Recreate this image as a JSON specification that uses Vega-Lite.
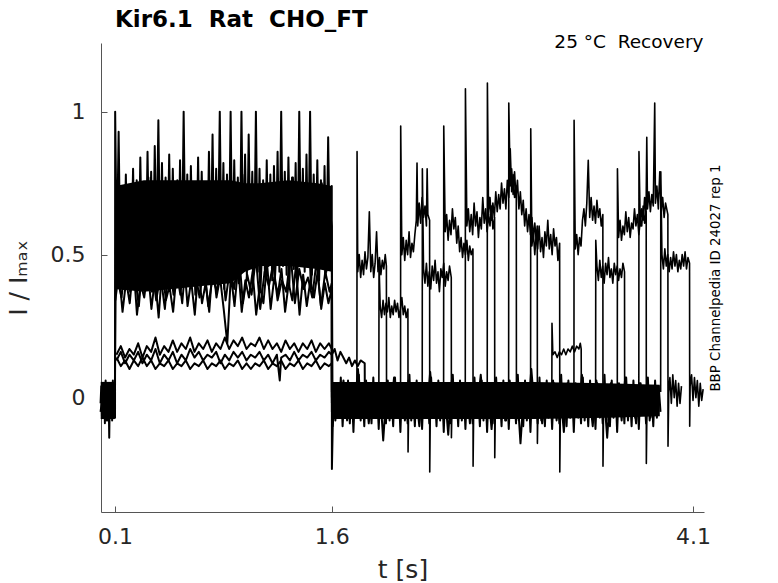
{
  "$schema": "https://vega.github.io/schema/vega-lite/v6.json",
  "width": 603,
  "height": 469,
  "autosize": "none",
  "padding": {"left": 101, "top": 43, "right": 74, "bottom": 71},
  "background": "white",
  "config": {"view": {"stroke": null}, "font": "DejaVu Sans"},
  "title": {
    "text": "Kir6.1 \u00a0Rat \u00a0CHO_FT",
    "anchor": "start",
    "frame": "group",
    "dx": 14,
    "dy": 23,
    "font": "DejaVu Sans",
    "fontSize": 23,
    "fontWeight": "bold",
    "color": "black",
    "baseline": "alphabetic",
    "offset": 6
  },
  "data": {"values": [
    {"k":1,"t":0,"v":-0.02},{"k":1,"t":0.005,"v":0.04},{"k":1,"t":0.01,"v":-0.07},{"k":1,"t":0.015,"v":0.05},{"k":1,"t":0.02,"v":-0.04},{"k":1,"t":0.025,"v":0.03},{"k":1,"t":0.03,"v":-0.09},{"k":1,"t":0.035,"v":0.06},{"k":1,"t":0.04,"v":-0.05},{"k":1,"t":0.045,"v":0.02},{"k":1,"t":0.05,"v":-0.08},{"k":1,"t":0.055,"v":0.04},{"k":1,"t":0.06,"v":-0.14},{"k":1,"t":0.065,"v":0.05},{"k":1,"t":0.07,"v":-0.06},{"k":1,"t":0.075,"v":0.03},{"k":1,"t":0.08,"v":-0.08},{"k":1,"t":0.085,"v":0.06},{"k":1,"t":0.09,"v":-0.04},{"k":1,"t":0.095,"v":0.04},{"k":1,"t":0.1,"v":-0.07},{"k":1,"t":0.101,"v":1.0},
    {"k":1,"t":0.1125,"v":0.48},{"k":1,"t":0.125,"v":0.93},{"k":1,"t":0.1375,"v":0.44},{"k":1,"t":0.15,"v":0.74},{"k":1,"t":0.1625,"v":0.47},{"k":1,"t":0.175,"v":0.78},{"k":1,"t":0.1875,"v":0.42},{"k":1,"t":0.2,"v":0.71},{"k":1,"t":0.2125,"v":0.5},{"k":1,"t":0.225,"v":0.8},
    {"k":1,"t":0.2375,"v":0.45},{"k":1,"t":0.25,"v":0.76},{"k":1,"t":0.2625,"v":0.41},{"k":1,"t":0.275,"v":0.84},{"k":1,"t":0.2875,"v":0.49},{"k":1,"t":0.3,"v":0.72},{"k":1,"t":0.3125,"v":0.44},{"k":1,"t":0.325,"v":0.86},{"k":1,"t":0.3375,"v":0.47},{"k":1,"t":0.35,"v":0.79},
    {"k":1,"t":0.3625,"v":0.43},{"k":1,"t":0.375,"v":0.88},{"k":1,"t":0.3875,"v":0.5},{"k":1,"t":0.4,"v":0.97},{"k":1,"t":0.4125,"v":0.46},{"k":1,"t":0.425,"v":0.82},{"k":1,"t":0.4375,"v":0.42},{"k":1,"t":0.45,"v":0.77},{"k":1,"t":0.4625,"v":0.48},{"k":1,"t":0.475,"v":0.85},
    {"k":1,"t":0.4875,"v":0.44},{"k":1,"t":0.5,"v":0.8},{"k":1,"t":0.5125,"v":0.47},{"k":1,"t":0.525,"v":0.74},{"k":1,"t":0.5375,"v":0.41},{"k":1,"t":0.55,"v":0.83},{"k":1,"t":0.5625,"v":0.45},{"k":1,"t":0.575,"v":1.0},{"k":1,"t":0.5875,"v":0.46},{"k":1,"t":0.6,"v":0.78},
    {"k":1,"t":0.6125,"v":0.43},{"k":1,"t":0.625,"v":0.81},{"k":1,"t":0.6375,"v":0.49},{"k":1,"t":0.65,"v":0.75},{"k":1,"t":0.6625,"v":0.45},{"k":1,"t":0.675,"v":0.84},{"k":1,"t":0.6875,"v":0.42},{"k":1,"t":0.7,"v":0.79},{"k":1,"t":0.7125,"v":0.48},{"k":1,"t":0.725,"v":0.73},
    {"k":1,"t":0.7375,"v":0.44},{"k":1,"t":0.75,"v":0.86},{"k":1,"t":0.7625,"v":0.47},{"k":1,"t":0.775,"v":0.92},{"k":1,"t":0.7875,"v":0.43},{"k":1,"t":0.8,"v":0.8},{"k":1,"t":0.8125,"v":0.5},{"k":1,"t":0.825,"v":1.0},{"k":1,"t":0.8375,"v":0.45},{"k":1,"t":0.85,"v":0.82},
    {"k":1,"t":0.8625,"v":0.41},{"k":1,"t":0.875,"v":0.78},{"k":1,"t":0.8875,"v":0.46},{"k":1,"t":0.9,"v":1.0},{"k":1,"t":0.9125,"v":0.44},{"k":1,"t":0.925,"v":0.83},{"k":1,"t":0.9375,"v":0.48},{"k":1,"t":0.95,"v":0.77},{"k":1,"t":0.9625,"v":0.43},{"k":1,"t":0.975,"v":1.0},
    {"k":1,"t":0.9875,"v":0.47},{"k":1,"t":1.0,"v":0.85},{"k":1,"t":1.0125,"v":0.42},{"k":1,"t":1.025,"v":0.92},{"k":1,"t":1.0375,"v":0.5},{"k":1,"t":1.05,"v":0.79},{"k":1,"t":1.0625,"v":0.45},{"k":1,"t":1.075,"v":1.0},{"k":1,"t":1.0875,"v":0.44},{"k":1,"t":1.1,"v":0.8},
    {"k":1,"t":1.1125,"v":0.48},{"k":1,"t":1.125,"v":0.76},{"k":1,"t":1.1375,"v":0.43},{"k":1,"t":1.15,"v":0.83},{"k":1,"t":1.1625,"v":0.46},{"k":1,"t":1.175,"v":0.78},{"k":1,"t":1.1875,"v":0.41},{"k":1,"t":1.2,"v":0.81},{"k":1,"t":1.2125,"v":0.47},{"k":1,"t":1.225,"v":0.86},
    {"k":1,"t":1.2375,"v":0.44},{"k":1,"t":1.25,"v":1.0},{"k":1,"t":1.2625,"v":0.46},{"k":1,"t":1.275,"v":0.79},{"k":1,"t":1.2875,"v":0.43},{"k":1,"t":1.3,"v":0.84},{"k":1,"t":1.3125,"v":0.49},{"k":1,"t":1.325,"v":0.77},{"k":1,"t":1.3375,"v":0.45},{"k":1,"t":1.35,"v":0.82},
    {"k":1,"t":1.3625,"v":0.42},{"k":1,"t":1.375,"v":1.0},{"k":1,"t":1.3875,"v":0.47},{"k":1,"t":1.4,"v":0.8},{"k":1,"t":1.4125,"v":0.44},{"k":1,"t":1.425,"v":0.85},{"k":1,"t":1.4375,"v":0.48},{"k":1,"t":1.45,"v":1.0},{"k":1,"t":1.4625,"v":0.43},{"k":1,"t":1.475,"v":0.78},
    {"k":1,"t":1.4875,"v":0.46},{"k":1,"t":1.5,"v":0.83},{"k":1,"t":1.5125,"v":0.41},{"k":1,"t":1.525,"v":0.76},{"k":1,"t":1.5375,"v":0.47},{"k":1,"t":1.55,"v":0.81},{"k":1,"t":1.5625,"v":0.44},{"k":1,"t":1.575,"v":0.91},{"k":1,"t":1.5875,"v":0.48},{"k":1,"t":1.6,"v":0.74},
    {"k":1,"t":1.601,"v":-0.25},
    {"k":1,"t":1.6125,"v":0.05},{"k":1,"t":1.625,"v":-0.08},{"k":1,"t":1.6375,"v":0.03},{"k":1,"t":1.65,"v":-0.06},{"k":1,"t":1.6625,"v":0.07},{"k":1,"t":1.675,"v":-0.1},{"k":1,"t":1.6875,"v":0.02},{"k":1,"t":1.7,"v":-0.07},{"k":1,"t":1.7125,"v":0.06},{"k":1,"t":1.725,"v":-0.09},
    {"k":1,"t":1.7375,"v":0.04},{"k":1,"t":1.75,"v":-0.12},{"k":1,"t":1.7625,"v":0.05},{"k":1,"t":1.775,"v":-0.06},{"k":1,"t":1.7875,"v":0.08},{"k":1,"t":1.8,"v":-0.08},{"k":1,"t":1.8125,"v":0.03},{"k":1,"t":1.825,"v":-0.1},{"k":1,"t":1.8375,"v":0.06},{"k":1,"t":1.85,"v":-0.05},
    {"k":1,"t":1.8625,"v":0.02},{"k":1,"t":1.875,"v":-0.09},{"k":1,"t":1.8875,"v":0.07},{"k":1,"t":1.9,"v":-0.07},{"k":1,"t":1.9125,"v":0.04},{"k":1,"t":1.925,"v":-0.11},{"k":1,"t":1.9375,"v":0.05},{"k":1,"t":1.95,"v":-0.06},{"k":1,"t":1.9625,"v":0.03},{"k":1,"t":1.975,"v":-0.09},
    {"k":1,"t":1.9875,"v":0.06},{"k":1,"t":2.0,"v":-0.08},{"k":1,"t":2.0125,"v":0.02},{"k":1,"t":2.025,"v":-0.1},{"k":1,"t":2.0375,"v":0.07},{"k":1,"t":2.05,"v":-0.07},{"k":1,"t":2.0625,"v":0.04},{"k":1,"t":2.075,"v":-0.12},{"k":1,"t":2.0875,"v":0.05},{"k":1,"t":2.1,"v":-0.06},
    {"k":1,"t":2.1125,"v":0.03},{"k":1,"t":2.125,"v":-0.09},{"k":1,"t":2.1375,"v":0.08},{"k":1,"t":2.15,"v":-0.08},{"k":1,"t":2.1625,"v":0.02},{"k":1,"t":2.175,"v":-0.1},{"k":1,"t":2.1875,"v":0.06},{"k":1,"t":2.2,"v":-0.05},{"k":1,"t":2.2125,"v":0.04},{"k":1,"t":2.225,"v":-0.11},
    {"k":1,"t":2.2375,"v":0.05},{"k":1,"t":2.25,"v":-0.07},{"k":1,"t":2.2625,"v":0.03},{"k":1,"t":2.275,"v":-0.09},{"k":1,"t":2.2875,"v":0.07},{"k":1,"t":2.3,"v":-0.06},{"k":1,"t":2.3125,"v":0.02},{"k":1,"t":2.325,"v":-0.1},{"k":1,"t":2.3375,"v":0.06},{"k":1,"t":2.35,"v":-0.08},
    {"k":1,"t":2.3625,"v":0.04},{"k":1,"t":2.375,"v":-0.12},{"k":1,"t":2.3875,"v":0.05},{"k":1,"t":2.4,"v":-0.07},{"k":1,"t":2.4125,"v":0.03},{"k":1,"t":2.425,"v":-0.09},{"k":1,"t":2.4375,"v":0.08},{"k":1,"t":2.45,"v":-0.06},{"k":1,"t":2.4625,"v":0.02},{"k":1,"t":2.475,"v":-0.1},
    {"k":1,"t":2.4875,"v":0.06},{"k":1,"t":2.5,"v":-0.08},{"k":1,"t":2.5125,"v":0.04},{"k":1,"t":2.525,"v":-0.11},{"k":1,"t":2.5375,"v":0.05},{"k":1,"t":2.55,"v":-0.07},{"k":1,"t":2.5625,"v":0.03},{"k":1,"t":2.575,"v":-0.09},{"k":1,"t":2.5875,"v":0.07},{"k":1,"t":2.6,"v":-0.05},
    {"k":1,"t":2.6125,"v":0.02},{"k":1,"t":2.625,"v":-0.1},{"k":1,"t":2.6375,"v":0.06},{"k":1,"t":2.65,"v":-0.08},{"k":1,"t":2.6625,"v":0.04},{"k":1,"t":2.675,"v":-0.12},{"k":1,"t":2.6875,"v":0.05},{"k":1,"t":2.7,"v":-0.06},{"k":1,"t":2.7125,"v":0.03},{"k":1,"t":2.725,"v":-0.09},
    {"k":1,"t":2.7375,"v":0.07},{"k":1,"t":2.75,"v":-0.07},{"k":1,"t":2.7625,"v":0.02},{"k":1,"t":2.775,"v":-0.1},{"k":1,"t":2.7875,"v":0.06},{"k":1,"t":2.8,"v":-0.08},{"k":1,"t":2.8125,"v":0.04},{"k":1,"t":2.825,"v":-0.11},{"k":1,"t":2.8375,"v":0.05},{"k":1,"t":2.85,"v":-0.06},
    {"k":1,"t":2.8625,"v":0.03},{"k":1,"t":2.875,"v":-0.09},{"k":1,"t":2.8875,"v":0.08},{"k":1,"t":2.9,"v":-0.07},{"k":1,"t":2.9125,"v":0.02},{"k":1,"t":2.925,"v":-0.1},{"k":1,"t":2.9375,"v":0.06},{"k":1,"t":2.95,"v":-0.08},{"k":1,"t":2.9625,"v":0.04},{"k":1,"t":2.975,"v":-0.12},
    {"k":1,"t":2.9875,"v":0.05},{"k":1,"t":3.0,"v":-0.06},{"k":1,"t":3.0125,"v":0.03},{"k":1,"t":3.025,"v":-0.09},{"k":1,"t":3.0375,"v":0.07},{"k":1,"t":3.05,"v":-0.08},{"k":1,"t":3.0625,"v":0.02},{"k":1,"t":3.075,"v":-0.1},{"k":1,"t":3.0875,"v":0.06},{"k":1,"t":3.1,"v":-0.07},
    {"k":1,"t":3.1125,"v":0.04},{"k":1,"t":3.125,"v":-0.11},{"k":1,"t":3.1375,"v":0.05},{"k":1,"t":3.15,"v":-0.06},{"k":1,"t":3.1625,"v":0.03},{"k":1,"t":3.175,"v":-0.09},{"k":1,"t":3.1875,"v":0.08},{"k":1,"t":3.2,"v":-0.08},{"k":1,"t":3.2125,"v":0.02},{"k":1,"t":3.225,"v":-0.1},
    {"k":1,"t":3.2375,"v":0.06},{"k":1,"t":3.25,"v":-0.07},{"k":1,"t":3.2625,"v":0.04},{"k":1,"t":3.275,"v":-0.12},{"k":1,"t":3.2875,"v":0.05},{"k":1,"t":3.3,"v":-0.06},{"k":1,"t":3.3125,"v":0.03},{"k":1,"t":3.325,"v":-0.09},{"k":1,"t":3.3375,"v":0.07},{"k":1,"t":3.35,"v":-0.08},
    {"k":1,"t":3.3625,"v":0.02},{"k":1,"t":3.375,"v":-0.1},{"k":1,"t":3.3875,"v":0.06},{"k":1,"t":3.4,"v":-0.07},{"k":1,"t":3.4125,"v":0.04},{"k":1,"t":3.425,"v":-0.11},{"k":1,"t":3.4375,"v":0.05},{"k":1,"t":3.45,"v":-0.06},{"k":1,"t":3.4625,"v":0.03},{"k":1,"t":3.475,"v":-0.09},
    {"k":1,"t":3.4875,"v":0.08},{"k":1,"t":3.5,"v":-0.08},{"k":1,"t":3.5125,"v":0.02},{"k":1,"t":3.525,"v":-0.1},{"k":1,"t":3.5375,"v":0.06},{"k":1,"t":3.55,"v":-0.07},{"k":1,"t":3.5625,"v":0.04},{"k":1,"t":3.575,"v":-0.12},{"k":1,"t":3.5875,"v":0.05},{"k":1,"t":3.6,"v":-0.06},
    {"k":1,"t":3.6125,"v":0.03},{"k":1,"t":3.625,"v":-0.09},{"k":1,"t":3.6375,"v":0.07},{"k":1,"t":3.65,"v":-0.08},{"k":1,"t":3.6625,"v":0.02},{"k":1,"t":3.675,"v":-0.1},{"k":1,"t":3.6875,"v":0.06},{"k":1,"t":3.7,"v":-0.07},{"k":1,"t":3.7125,"v":0.04},{"k":1,"t":3.725,"v":-0.11},
    {"k":1,"t":3.7375,"v":0.05},{"k":1,"t":3.75,"v":-0.06},{"k":1,"t":3.7625,"v":0.03},{"k":1,"t":3.775,"v":-0.09},{"k":1,"t":3.7875,"v":0.07},{"k":1,"t":3.8,"v":-0.08},{"k":1,"t":3.8125,"v":0.02},{"k":1,"t":3.825,"v":-0.1},{"k":1,"t":3.8375,"v":0.06},{"k":1,"t":3.85,"v":-0.07},
    {"k":1,"t":3.8625,"v":0.04},{"k":1,"t":3.875,"v":-0.05},

    {"k":2,"t":0,"v":-0.05},{"k":2,"t":0.02,"v":0.03},{"k":2,"t":0.04,"v":-0.08},{"k":2,"t":0.06,"v":0.02},{"k":2,"t":0.08,"v":-0.06},{"k":2,"t":0.099,"v":0.01},
    {"k":2,"t":0.106,"v":0.52},{"k":2,"t":0.131,"v":0.7},{"k":2,"t":0.156,"v":0.38},{"k":2,"t":0.181,"v":0.66},{"k":2,"t":0.206,"v":0.45},{"k":2,"t":0.231,"v":0.74},{"k":2,"t":0.256,"v":0.4},{"k":2,"t":0.281,"v":0.68},{"k":2,"t":0.306,"v":0.5},{"k":2,"t":0.331,"v":0.77},
    {"k":2,"t":0.356,"v":0.37},{"k":2,"t":0.381,"v":0.64},{"k":2,"t":0.406,"v":0.46},{"k":2,"t":0.431,"v":0.72},{"k":2,"t":0.456,"v":0.41},{"k":2,"t":0.481,"v":0.69},{"k":2,"t":0.506,"v":0.48},{"k":2,"t":0.531,"v":0.76},{"k":2,"t":0.556,"v":0.39},{"k":2,"t":0.581,"v":0.63},
    {"k":2,"t":0.606,"v":0.44},{"k":2,"t":0.631,"v":0.71},{"k":2,"t":0.656,"v":0.36},{"k":2,"t":0.681,"v":0.67},{"k":2,"t":0.706,"v":0.49},{"k":2,"t":0.731,"v":0.75},{"k":2,"t":0.756,"v":0.42},{"k":2,"t":0.781,"v":0.65},{"k":2,"t":0.806,"v":0.47},{"k":2,"t":0.831,"v":0.73},
    {"k":2,"t":0.856,"v":0.38},{"k":2,"t":0.881,"v":0.7},{"k":2,"t":0.906,"v":0.45},{"k":2,"t":0.931,"v":0.66},{"k":2,"t":0.956,"v":0.4},{"k":2,"t":0.981,"v":0.78},{"k":2,"t":1.006,"v":0.5},{"k":2,"t":1.031,"v":0.62},{"k":2,"t":1.056,"v":0.43},{"k":2,"t":1.081,"v":0.72},
    {"k":2,"t":1.106,"v":0.37},{"k":2,"t":1.131,"v":0.68},{"k":2,"t":1.156,"v":0.47},{"k":2,"t":1.181,"v":0.74},{"k":2,"t":1.206,"v":0.41},{"k":2,"t":1.231,"v":0.66},{"k":2,"t":1.256,"v":0.49},{"k":2,"t":1.281,"v":0.71},{"k":2,"t":1.306,"v":0.39},{"k":2,"t":1.331,"v":0.77},
    {"k":2,"t":1.356,"v":0.44},{"k":2,"t":1.381,"v":0.64},{"k":2,"t":1.406,"v":0.46},{"k":2,"t":1.431,"v":0.73},{"k":2,"t":1.456,"v":0.38},{"k":2,"t":1.481,"v":0.69},{"k":2,"t":1.506,"v":0.48},{"k":2,"t":1.531,"v":0.75},{"k":2,"t":1.556,"v":0.42},{"k":2,"t":1.581,"v":0.67},
    {"k":2,"t":1.6,"v":0.6},
    {"k":2,"t":1.606,"v":-0.1},{"k":2,"t":1.631,"v":0.04},{"k":2,"t":1.656,"v":-0.05},{"k":2,"t":1.681,"v":0.06},{"k":2,"t":1.706,"v":-0.08},{"k":2,"t":1.731,"v":0.03},{"k":2,"t":1.756,"v":-0.06},{"k":2,"t":1.781,"v":0.1},{"k":2,"t":1.806,"v":-0.04},{"k":2,"t":1.831,"v":0.05},
    {"k":2,"t":1.856,"v":-0.09},{"k":2,"t":1.881,"v":0.02},{"k":2,"t":1.906,"v":-0.07},{"k":2,"t":1.931,"v":0.05},{"k":2,"t":1.956,"v":-0.15},{"k":2,"t":1.981,"v":0.04},{"k":2,"t":2.006,"v":-0.06},{"k":2,"t":2.031,"v":0.07},{"k":2,"t":2.056,"v":-0.05},{"k":2,"t":2.081,"v":0.03},
    {"k":2,"t":2.106,"v":-0.08},{"k":2,"t":2.131,"v":0.06},{"k":2,"t":2.156,"v":-0.04},{"k":2,"t":2.181,"v":0.02},{"k":2,"t":2.206,"v":-0.1},{"k":2,"t":2.231,"v":0.05},{"k":2,"t":2.256,"v":-0.07},{"k":2,"t":2.281,"v":0.09},{"k":2,"t":2.306,"v":-0.06},{"k":2,"t":2.331,"v":0.04},
    {"k":2,"t":2.356,"v":-0.05},{"k":2,"t":2.381,"v":0.03},{"k":2,"t":2.406,"v":-0.13},{"k":2,"t":2.431,"v":0.06},{"k":2,"t":2.456,"v":-0.07},{"k":2,"t":2.481,"v":0.02},{"k":2,"t":2.506,"v":-0.06},{"k":2,"t":2.531,"v":0.05},{"k":2,"t":2.556,"v":-0.09},{"k":2,"t":2.581,"v":0.04},
    {"k":2,"t":2.606,"v":-0.04},{"k":2,"t":2.631,"v":0.08},{"k":2,"t":2.656,"v":-0.07},{"k":2,"t":2.681,"v":0.03},{"k":2,"t":2.706,"v":-0.11},{"k":2,"t":2.731,"v":0.05},{"k":2,"t":2.756,"v":-0.06},{"k":2,"t":2.781,"v":0.02},{"k":2,"t":2.806,"v":-0.08},{"k":2,"t":2.831,"v":0.06},
    {"k":2,"t":2.856,"v":-0.05},{"k":2,"t":2.881,"v":0.04},{"k":2,"t":2.906,"v":-0.16},{"k":2,"t":2.931,"v":0.03},{"k":2,"t":2.956,"v":-0.07},{"k":2,"t":2.981,"v":0.1},{"k":2,"t":3.006,"v":-0.06},{"k":2,"t":3.031,"v":0.05},{"k":2,"t":3.056,"v":-0.09},{"k":2,"t":3.081,"v":0.02},
    {"k":2,"t":3.106,"v":-0.04},{"k":2,"t":3.131,"v":0.06},{"k":2,"t":3.156,"v":-0.08},{"k":2,"t":3.181,"v":0.03},{"k":2,"t":3.206,"v":-0.12},{"k":2,"t":3.231,"v":0.05},{"k":2,"t":3.256,"v":-0.06},{"k":2,"t":3.281,"v":0.04},{"k":2,"t":3.306,"v":-0.07},{"k":2,"t":3.331,"v":0.08},
    {"k":2,"t":3.356,"v":-0.05},{"k":2,"t":3.381,"v":0.02},{"k":2,"t":3.406,"v":-0.1},{"k":2,"t":3.431,"v":0.06},{"k":2,"t":3.456,"v":-0.07},{"k":2,"t":3.481,"v":0.03},{"k":2,"t":3.506,"v":-0.14},{"k":2,"t":3.531,"v":0.05},{"k":2,"t":3.556,"v":-0.06},{"k":2,"t":3.581,"v":0.04},
    {"k":2,"t":3.606,"v":-0.08},{"k":2,"t":3.631,"v":0.07},{"k":2,"t":3.656,"v":-0.05},{"k":2,"t":3.681,"v":0.03},{"k":2,"t":3.706,"v":-0.09},{"k":2,"t":3.731,"v":0.05},{"k":2,"t":3.756,"v":-0.06},{"k":2,"t":3.781,"v":0.02},{"k":2,"t":3.806,"v":-0.07},{"k":2,"t":3.831,"v":0.04},{"k":2,"t":3.856,"v":-0.05},

    {"k":3,"t":0.102,"v":0.34},{"k":3,"t":0.127,"v":0.44},{"k":3,"t":0.152,"v":0.3},{"k":3,"t":0.177,"v":0.41},{"k":3,"t":0.202,"v":0.33},{"k":3,"t":0.227,"v":0.47},{"k":3,"t":0.252,"v":0.29},{"k":3,"t":0.277,"v":0.4},{"k":3,"t":0.302,"v":0.35},{"k":3,"t":0.327,"v":0.45},
    {"k":3,"t":0.352,"v":0.31},{"k":3,"t":0.377,"v":0.42},{"k":3,"t":0.402,"v":0.28},{"k":3,"t":0.427,"v":0.46},{"k":3,"t":0.452,"v":0.34},{"k":3,"t":0.477,"v":0.39},{"k":3,"t":0.502,"v":0.3},{"k":3,"t":0.527,"v":0.44},{"k":3,"t":0.552,"v":0.36},{"k":3,"t":0.577,"v":0.48},
    {"k":3,"t":0.602,"v":0.32},{"k":3,"t":0.627,"v":0.41},{"k":3,"t":0.652,"v":0.29},{"k":3,"t":0.677,"v":0.45},{"k":3,"t":0.702,"v":0.33},{"k":3,"t":0.727,"v":0.4},{"k":3,"t":0.752,"v":0.3},{"k":3,"t":0.777,"v":0.47},{"k":3,"t":0.802,"v":0.35},{"k":3,"t":0.827,"v":0.42},
    {"k":3,"t":0.852,"v":0.31},{"k":3,"t":0.877,"v":0.19},{"k":3,"t":0.902,"v":0.43},{"k":3,"t":0.927,"v":0.32},{"k":3,"t":0.952,"v":0.46},{"k":3,"t":0.977,"v":0.3},{"k":3,"t":1.002,"v":0.41},{"k":3,"t":1.027,"v":0.35},{"k":3,"t":1.052,"v":0.44},{"k":3,"t":1.077,"v":0.29},
    {"k":3,"t":1.102,"v":0.39},{"k":3,"t":1.127,"v":0.33},{"k":3,"t":1.152,"v":0.47},{"k":3,"t":1.177,"v":0.31},{"k":3,"t":1.202,"v":0.42},{"k":3,"t":1.227,"v":0.36},{"k":3,"t":1.252,"v":0.45},{"k":3,"t":1.277,"v":0.3},{"k":3,"t":1.302,"v":0.4},{"k":3,"t":1.327,"v":0.34},
    {"k":3,"t":1.352,"v":0.46},{"k":3,"t":1.377,"v":0.29},{"k":3,"t":1.402,"v":0.43},{"k":3,"t":1.427,"v":0.32},{"k":3,"t":1.452,"v":0.41},{"k":3,"t":1.477,"v":0.35},{"k":3,"t":1.502,"v":0.44},{"k":3,"t":1.527,"v":0.31},{"k":3,"t":1.552,"v":0.4},{"k":3,"t":1.577,"v":0.33},
    {"k":3,"t":1.6,"v":0.38},{"k":3,"t":1.601,"v":0.0},

    {"k":4,"t":0.115,"v":0.42},{"k":4,"t":0.145,"v":0.35},{"k":4,"t":0.175,"v":0.49},{"k":4,"t":0.205,"v":0.37},{"k":4,"t":0.235,"v":0.44},{"k":4,"t":0.265,"v":0.32},{"k":4,"t":0.295,"v":0.5},{"k":4,"t":0.325,"v":0.38},{"k":4,"t":0.355,"v":0.46},{"k":4,"t":0.385,"v":0.34},
    {"k":4,"t":0.415,"v":0.43},{"k":4,"t":0.445,"v":0.31},{"k":4,"t":0.475,"v":0.48},{"k":4,"t":0.505,"v":0.36},{"k":4,"t":0.535,"v":0.45},{"k":4,"t":0.565,"v":0.33},{"k":4,"t":0.595,"v":0.51},{"k":4,"t":0.625,"v":0.39},{"k":4,"t":0.655,"v":0.44},{"k":4,"t":0.685,"v":0.35},
    {"k":4,"t":0.715,"v":0.47},{"k":4,"t":0.745,"v":0.32},{"k":4,"t":0.775,"v":0.42},{"k":4,"t":0.805,"v":0.37},{"k":4,"t":0.835,"v":0.5},{"k":4,"t":0.865,"v":0.34},{"k":4,"t":0.895,"v":0.45},{"k":4,"t":0.925,"v":0.38},{"k":4,"t":0.955,"v":0.52},{"k":4,"t":0.985,"v":0.33},
    {"k":4,"t":1.015,"v":0.43},{"k":4,"t":1.045,"v":0.36},{"k":4,"t":1.075,"v":0.49},{"k":4,"t":1.105,"v":0.31},{"k":4,"t":1.135,"v":0.44},{"k":4,"t":1.165,"v":0.39},{"k":4,"t":1.195,"v":0.47},{"k":4,"t":1.225,"v":0.34},{"k":4,"t":1.255,"v":0.41},{"k":4,"t":1.285,"v":0.37},
    {"k":4,"t":1.315,"v":0.5},{"k":4,"t":1.345,"v":0.33},{"k":4,"t":1.375,"v":0.45},{"k":4,"t":1.405,"v":0.38},{"k":4,"t":1.435,"v":0.42},{"k":4,"t":1.465,"v":0.35},{"k":4,"t":1.495,"v":0.48},{"k":4,"t":1.525,"v":0.32},{"k":4,"t":1.555,"v":0.44},{"k":4,"t":1.585,"v":0.37},
    {"k":4,"t":1.6,"v":0.4},{"k":4,"t":1.601,"v":0.02},

    {"k":5,"t":0.11,"v":0.15},{"k":5,"t":0.14,"v":0.18},{"k":5,"t":0.17,"v":0.14},{"k":5,"t":0.2,"v":0.17},{"k":5,"t":0.23,"v":0.15},{"k":5,"t":0.26,"v":0.19},{"k":5,"t":0.29,"v":0.14},{"k":5,"t":0.32,"v":0.18},{"k":5,"t":0.35,"v":0.16},{"k":5,"t":0.38,"v":0.21},
    {"k":5,"t":0.41,"v":0.15},{"k":5,"t":0.44,"v":0.18},{"k":5,"t":0.47,"v":0.16},{"k":5,"t":0.5,"v":0.2},{"k":5,"t":0.53,"v":0.16},{"k":5,"t":0.56,"v":0.19},{"k":5,"t":0.59,"v":0.17},{"k":5,"t":0.62,"v":0.21},{"k":5,"t":0.65,"v":0.16},{"k":5,"t":0.68,"v":0.19},
    {"k":5,"t":0.71,"v":0.17},{"k":5,"t":0.74,"v":0.2},{"k":5,"t":0.77,"v":0.16},{"k":5,"t":0.8,"v":0.19},{"k":5,"t":0.83,"v":0.17},{"k":5,"t":0.86,"v":0.21},{"k":5,"t":0.89,"v":0.17},{"k":5,"t":0.92,"v":0.2},{"k":5,"t":0.95,"v":0.18},{"k":5,"t":0.98,"v":0.21},
    {"k":5,"t":1.01,"v":0.17},{"k":5,"t":1.04,"v":0.19},{"k":5,"t":1.07,"v":0.18},{"k":5,"t":1.1,"v":0.21},{"k":5,"t":1.13,"v":0.17},{"k":5,"t":1.16,"v":0.2},{"k":5,"t":1.19,"v":0.17},{"k":5,"t":1.22,"v":0.19},{"k":5,"t":1.25,"v":0.16},{"k":5,"t":1.28,"v":0.2},
    {"k":5,"t":1.31,"v":0.17},{"k":5,"t":1.34,"v":0.19},{"k":5,"t":1.37,"v":0.16},{"k":5,"t":1.4,"v":0.19},{"k":5,"t":1.43,"v":0.17},{"k":5,"t":1.46,"v":0.2},{"k":5,"t":1.49,"v":0.16},{"k":5,"t":1.52,"v":0.19},{"k":5,"t":1.55,"v":0.17},{"k":5,"t":1.58,"v":0.19},
    {"k":5,"t":1.6,"v":0.17},{"k":5,"t":1.601,"v":-0.02},

    {"k":6,"t":0.11,"v":0.13},{"k":6,"t":0.14,"v":0.16},{"k":6,"t":0.17,"v":0.12},{"k":6,"t":0.2,"v":0.15},{"k":6,"t":0.23,"v":0.13},{"k":6,"t":0.26,"v":0.16},{"k":6,"t":0.29,"v":0.12},{"k":6,"t":0.32,"v":0.15},{"k":6,"t":0.35,"v":0.13},{"k":6,"t":0.38,"v":0.17},
    {"k":6,"t":0.41,"v":0.12},{"k":6,"t":0.44,"v":0.15},{"k":6,"t":0.47,"v":0.13},{"k":6,"t":0.5,"v":0.16},{"k":6,"t":0.53,"v":0.12},{"k":6,"t":0.56,"v":0.15},{"k":6,"t":0.59,"v":0.13},{"k":6,"t":0.62,"v":0.17},{"k":6,"t":0.65,"v":0.14},{"k":6,"t":0.68,"v":0.16},
    {"k":6,"t":0.71,"v":0.13},{"k":6,"t":0.74,"v":0.15},{"k":6,"t":0.77,"v":0.14},{"k":6,"t":0.8,"v":0.16},{"k":6,"t":0.83,"v":0.12},{"k":6,"t":0.86,"v":0.15},{"k":6,"t":0.89,"v":0.13},{"k":6,"t":0.92,"v":0.16},{"k":6,"t":0.95,"v":0.14},{"k":6,"t":0.98,"v":0.16},
    {"k":6,"t":1.01,"v":0.13},{"k":6,"t":1.04,"v":0.15},{"k":6,"t":1.07,"v":0.14},{"k":6,"t":1.1,"v":0.16},{"k":6,"t":1.13,"v":0.13},{"k":6,"t":1.16,"v":0.15},{"k":6,"t":1.19,"v":0.12},{"k":6,"t":1.22,"v":0.15},{"k":6,"t":1.24,"v":0.06},{"k":6,"t":1.25,"v":0.14},
    {"k":6,"t":1.28,"v":0.15},{"k":6,"t":1.31,"v":0.13},{"k":6,"t":1.34,"v":0.16},{"k":6,"t":1.37,"v":0.13},{"k":6,"t":1.4,"v":0.15},{"k":6,"t":1.43,"v":0.14},{"k":6,"t":1.46,"v":0.16},{"k":6,"t":1.49,"v":0.13},{"k":6,"t":1.52,"v":0.15},{"k":6,"t":1.55,"v":0.14},
    {"k":6,"t":1.58,"v":0.16},{"k":6,"t":1.6,"v":0.15},{"k":6,"t":1.62,"v":0.17},{"k":6,"t":1.64,"v":0.13},{"k":6,"t":1.66,"v":0.16},{"k":6,"t":1.68,"v":0.14},{"k":6,"t":1.7,"v":0.12},{"k":6,"t":1.72,"v":0.14},{"k":6,"t":1.74,"v":0.11},{"k":6,"t":1.76,"v":0.13},
    {"k":6,"t":1.78,"v":0.11},{"k":6,"t":1.8,"v":0.13},{"k":6,"t":1.828,"v":0.12},{"k":6,"t":1.829,"v":-0.02},

    {"k":7,"t":0.11,"v":0.14},{"k":7,"t":0.14,"v":0.11},{"k":7,"t":0.17,"v":0.13},{"k":7,"t":0.2,"v":0.1},{"k":7,"t":0.23,"v":0.13},{"k":7,"t":0.26,"v":0.11},{"k":7,"t":0.29,"v":0.14},{"k":7,"t":0.32,"v":0.11},{"k":7,"t":0.35,"v":0.13},{"k":7,"t":0.38,"v":0.1},
    {"k":7,"t":0.41,"v":0.12},{"k":7,"t":0.44,"v":0.11},{"k":7,"t":0.47,"v":0.13},{"k":7,"t":0.5,"v":0.1},{"k":7,"t":0.53,"v":0.12},{"k":7,"t":0.56,"v":0.11},{"k":7,"t":0.59,"v":0.13},{"k":7,"t":0.62,"v":0.1},{"k":7,"t":0.65,"v":0.12},{"k":7,"t":0.68,"v":0.11},
    {"k":7,"t":0.71,"v":0.13},{"k":7,"t":0.74,"v":0.1},{"k":7,"t":0.77,"v":0.12},{"k":7,"t":0.8,"v":0.11},{"k":7,"t":0.83,"v":0.13},{"k":7,"t":0.86,"v":0.1},{"k":7,"t":0.89,"v":0.12},{"k":7,"t":0.92,"v":0.11},{"k":7,"t":0.95,"v":0.13},{"k":7,"t":0.98,"v":0.1},
    {"k":7,"t":1.01,"v":0.12},{"k":7,"t":1.04,"v":0.1},{"k":7,"t":1.07,"v":0.12},{"k":7,"t":1.1,"v":0.11},{"k":7,"t":1.13,"v":0.13},{"k":7,"t":1.16,"v":0.1},{"k":7,"t":1.19,"v":0.12},{"k":7,"t":1.22,"v":0.11},{"k":7,"t":1.25,"v":0.13},{"k":7,"t":1.28,"v":0.1},
    {"k":7,"t":1.31,"v":0.12},{"k":7,"t":1.34,"v":0.11},{"k":7,"t":1.37,"v":0.13},{"k":7,"t":1.4,"v":0.1},{"k":7,"t":1.43,"v":0.12},{"k":7,"t":1.46,"v":0.11},{"k":7,"t":1.49,"v":0.13},{"k":7,"t":1.52,"v":0.1},{"k":7,"t":1.55,"v":0.12},{"k":7,"t":1.58,"v":0.11},
    {"k":7,"t":1.6,"v":0.12},{"k":7,"t":1.601,"v":-0.05},

    {"k":10,"t":1.774,"v":0.02},{"k":10,"t":1.775,"v":0.86},{"k":10,"t":1.78,"v":0.44},{"k":10,"t":1.79,"v":0.5},{"k":10,"t":1.8,"v":0.42},{"k":10,"t":1.81,"v":0.48},{"k":10,"t":1.82,"v":0.43},{"k":10,"t":1.83,"v":0.51},{"k":10,"t":1.84,"v":0.45},{"k":10,"t":1.85,"v":0.49},{"k":10,"t":1.86,"v":0.65},{"k":10,"t":1.87,"v":0.44},{"k":10,"t":1.88,"v":0.5},{"k":10,"t":1.89,"v":0.42},{"k":10,"t":1.9,"v":0.47},{"k":10,"t":1.91,"v":0.58},{"k":10,"t":1.92,"v":0.44},{"k":10,"t":1.93,"v":0.49},{"k":10,"t":1.94,"v":0.43},{"k":10,"t":1.95,"v":0.48},{"k":10,"t":1.96,"v":0.45},{"k":10,"t":1.97,"v":0.5},{"k":10,"t":1.978,"v":0.46},{"k":10,"t":1.979,"v":0.02},

    {"k":11,"t":1.926,"v":0.02},{"k":11,"t":1.927,"v":0.47},{"k":11,"t":1.935,"v":0.32},{"k":11,"t":1.945,"v":0.28},{"k":11,"t":1.955,"v":0.34},{"k":11,"t":1.965,"v":0.29},{"k":11,"t":1.975,"v":0.33},{"k":11,"t":1.985,"v":0.3},{"k":11,"t":1.995,"v":0.35},{"k":11,"t":2.005,"v":0.28},{"k":11,"t":2.015,"v":0.32},{"k":11,"t":2.025,"v":0.29},{"k":11,"t":2.035,"v":0.34},{"k":11,"t":2.045,"v":0.3},{"k":11,"t":2.055,"v":0.33},{"k":11,"t":2.065,"v":0.28},{"k":11,"t":2.075,"v":0.31},{"k":11,"t":2.085,"v":0.35},{"k":11,"t":2.095,"v":0.29},{"k":11,"t":2.105,"v":0.32},{"k":11,"t":2.115,"v":0.28},{"k":11,"t":2.127,"v":0.31},{"k":11,"t":2.128,"v":-0.19},{"k":11,"t":2.133,"v":0.0},

    {"k":12,"t":2.076,"v":0.0},{"k":12,"t":2.077,"v":0.95},{"k":12,"t":2.085,"v":0.5},{"k":12,"t":2.095,"v":0.56},{"k":12,"t":2.105,"v":0.48},{"k":12,"t":2.115,"v":0.55},{"k":12,"t":2.125,"v":0.5},{"k":12,"t":2.135,"v":0.58},{"k":12,"t":2.145,"v":0.49},{"k":12,"t":2.155,"v":0.54},{"k":12,"t":2.165,"v":0.51},{"k":12,"t":2.175,"v":0.57},{"k":12,"t":2.185,"v":0.62},{"k":12,"t":2.19,"v":0.82},{"k":12,"t":2.195,"v":0.6},{"k":12,"t":2.205,"v":0.68},{"k":12,"t":2.215,"v":0.61},{"k":12,"t":2.225,"v":0.7},{"k":12,"t":2.235,"v":0.63},{"k":12,"t":2.245,"v":0.67},{"k":12,"t":2.255,"v":0.6},{"k":12,"t":2.26,"v":0.8},{"k":12,"t":2.265,"v":0.64},{"k":12,"t":2.277,"v":0.62},{"k":12,"t":2.278,"v":-0.26},{"k":12,"t":2.283,"v":0.0},

    {"k":13,"t":2.226,"v":0.02},{"k":13,"t":2.227,"v":0.8},{"k":13,"t":2.235,"v":0.45},{"k":13,"t":2.245,"v":0.4},{"k":13,"t":2.255,"v":0.47},{"k":13,"t":2.265,"v":0.39},{"k":13,"t":2.275,"v":0.44},{"k":13,"t":2.285,"v":0.38},{"k":13,"t":2.295,"v":0.46},{"k":13,"t":2.305,"v":0.41},{"k":13,"t":2.315,"v":0.48},{"k":13,"t":2.325,"v":0.4},{"k":13,"t":2.335,"v":0.44},{"k":13,"t":2.345,"v":0.37},{"k":13,"t":2.355,"v":0.45},{"k":13,"t":2.365,"v":0.42},{"k":13,"t":2.375,"v":0.47},{"k":13,"t":2.385,"v":0.39},{"k":13,"t":2.395,"v":0.44},{"k":13,"t":2.405,"v":0.41},{"k":13,"t":2.415,"v":0.46},{"k":13,"t":2.427,"v":0.42},{"k":13,"t":2.428,"v":-0.14},{"k":13,"t":2.433,"v":0.0},

    {"k":14,"t":2.374,"v":0.02},{"k":14,"t":2.375,"v":0.95},{"k":14,"t":2.385,"v":0.58},{"k":14,"t":2.395,"v":0.64},{"k":14,"t":2.405,"v":0.55},{"k":14,"t":2.415,"v":0.62},{"k":14,"t":2.425,"v":0.57},{"k":14,"t":2.435,"v":0.66},{"k":14,"t":2.445,"v":0.59},{"k":14,"t":2.455,"v":0.63},{"k":14,"t":2.465,"v":0.54},{"k":14,"t":2.475,"v":0.6},{"k":14,"t":2.485,"v":0.51},{"k":14,"t":2.495,"v":0.56},{"k":14,"t":2.505,"v":0.49},{"k":14,"t":2.515,"v":0.54},{"k":14,"t":2.525,"v":0.5},{"k":14,"t":2.535,"v":0.55},{"k":14,"t":2.545,"v":0.48},{"k":14,"t":2.555,"v":0.53},{"k":14,"t":2.565,"v":0.5},{"k":14,"t":2.577,"v":0.52},{"k":14,"t":2.578,"v":-0.24},{"k":14,"t":2.583,"v":0.0},

    {"k":15,"t":2.524,"v":0.02},{"k":15,"t":2.525,"v":1.08},{"k":15,"t":2.535,"v":0.6},{"k":15,"t":2.545,"v":0.66},{"k":15,"t":2.555,"v":0.58},{"k":15,"t":2.565,"v":0.64},{"k":15,"t":2.575,"v":0.57},{"k":15,"t":2.585,"v":0.68},{"k":15,"t":2.595,"v":0.6},{"k":15,"t":2.605,"v":0.65},{"k":15,"t":2.615,"v":0.56},{"k":15,"t":2.625,"v":0.63},{"k":15,"t":2.635,"v":0.59},{"k":15,"t":2.645,"v":0.7},{"k":15,"t":2.655,"v":0.61},{"k":15,"t":2.665,"v":0.66},{"k":15,"t":2.675,"v":0.58},{"k":15,"t":2.685,"v":0.64},{"k":15,"t":2.695,"v":0.6},{"k":15,"t":2.705,"v":0.67},{"k":15,"t":2.715,"v":0.59},{"k":15,"t":2.727,"v":0.63},{"k":15,"t":2.728,"v":-0.21},{"k":15,"t":2.733,"v":0.0},

    {"k":16,"t":2.676,"v":0.02},{"k":16,"t":2.677,"v":1.1},{"k":16,"t":2.685,"v":0.64},{"k":16,"t":2.695,"v":0.7},{"k":16,"t":2.705,"v":0.62},{"k":16,"t":2.715,"v":0.68},{"k":16,"t":2.725,"v":0.63},{"k":16,"t":2.735,"v":0.72},{"k":16,"t":2.745,"v":0.65},{"k":16,"t":2.755,"v":0.71},{"k":16,"t":2.765,"v":0.66},{"k":16,"t":2.775,"v":0.75},{"k":16,"t":2.785,"v":0.68},{"k":16,"t":2.795,"v":0.73},{"k":16,"t":2.805,"v":0.66},{"k":16,"t":2.815,"v":0.76},{"k":16,"t":2.825,"v":0.7},{"k":16,"t":2.835,"v":0.87},{"k":16,"t":2.845,"v":0.72},{"k":16,"t":2.855,"v":0.78},{"k":16,"t":2.865,"v":0.7},{"k":16,"t":2.877,"v":0.74},{"k":16,"t":2.878,"v":-0.08},{"k":16,"t":2.883,"v":0.0},

    {"k":17,"t":2.824,"v":0.02},{"k":17,"t":2.825,"v":1.03},{"k":17,"t":2.835,"v":0.74},{"k":17,"t":2.845,"v":0.8},{"k":17,"t":2.855,"v":0.71},{"k":17,"t":2.865,"v":0.79},{"k":17,"t":2.875,"v":0.7},{"k":17,"t":2.885,"v":0.76},{"k":17,"t":2.895,"v":0.66},{"k":17,"t":2.905,"v":0.72},{"k":17,"t":2.915,"v":0.64},{"k":17,"t":2.925,"v":0.69},{"k":17,"t":2.935,"v":0.6},{"k":17,"t":2.945,"v":0.66},{"k":17,"t":2.955,"v":0.58},{"k":17,"t":2.965,"v":0.64},{"k":17,"t":2.975,"v":0.57},{"k":17,"t":2.985,"v":0.63},{"k":17,"t":2.995,"v":0.56},{"k":17,"t":3.005,"v":0.61},{"k":17,"t":3.015,"v":0.55},{"k":17,"t":3.022,"v":0.6},{"k":17,"t":3.023,"v":-0.16},{"k":17,"t":3.028,"v":0.0},

    {"k":18,"t":2.976,"v":0.02},{"k":18,"t":2.977,"v":0.94},{"k":18,"t":2.985,"v":0.53},{"k":18,"t":2.995,"v":0.58},{"k":18,"t":3.005,"v":0.5},{"k":18,"t":3.015,"v":0.57},{"k":18,"t":3.025,"v":0.52},{"k":18,"t":3.035,"v":0.6},{"k":18,"t":3.045,"v":0.51},{"k":18,"t":3.055,"v":0.56},{"k":18,"t":3.065,"v":0.49},{"k":18,"t":3.075,"v":0.58},{"k":18,"t":3.085,"v":0.53},{"k":18,"t":3.095,"v":0.62},{"k":18,"t":3.105,"v":0.52},{"k":18,"t":3.115,"v":0.57},{"k":18,"t":3.125,"v":0.5},{"k":18,"t":3.135,"v":0.59},{"k":18,"t":3.145,"v":0.53},{"k":18,"t":3.155,"v":0.56},{"k":18,"t":3.165,"v":0.48},{"k":18,"t":3.177,"v":0.54},{"k":18,"t":3.178,"v":-0.26},{"k":18,"t":3.183,"v":0.0},

    {"k":19,"t":3.123,"v":0.02},{"k":19,"t":3.124,"v":0.26},{"k":19,"t":3.13,"v":0.15},{"k":19,"t":3.145,"v":0.16},{"k":19,"t":3.16,"v":0.14},{"k":19,"t":3.175,"v":0.16},{"k":19,"t":3.19,"v":0.15},{"k":19,"t":3.205,"v":0.17},{"k":19,"t":3.22,"v":0.15},{"k":19,"t":3.235,"v":0.17},{"k":19,"t":3.25,"v":0.16},{"k":19,"t":3.265,"v":0.18},{"k":19,"t":3.28,"v":0.16},{"k":19,"t":3.295,"v":0.18},{"k":19,"t":3.31,"v":0.17},{"k":19,"t":3.32,"v":0.19},{"k":19,"t":3.326,"v":0.17},{"k":19,"t":3.327,"v":0.02},

    {"k":20,"t":3.276,"v":0.02},{"k":20,"t":3.277,"v":0.97},{"k":20,"t":3.285,"v":0.52},{"k":20,"t":3.295,"v":0.57},{"k":20,"t":3.305,"v":0.5},{"k":20,"t":3.315,"v":0.56},{"k":20,"t":3.325,"v":0.53},{"k":20,"t":3.335,"v":0.62},{"k":20,"t":3.345,"v":0.66},{"k":20,"t":3.355,"v":0.6},{"k":20,"t":3.365,"v":0.68},{"k":20,"t":3.375,"v":0.83},{"k":20,"t":3.385,"v":0.63},{"k":20,"t":3.395,"v":0.7},{"k":20,"t":3.405,"v":0.62},{"k":20,"t":3.415,"v":0.67},{"k":20,"t":3.425,"v":0.61},{"k":20,"t":3.435,"v":0.69},{"k":20,"t":3.445,"v":0.63},{"k":20,"t":3.455,"v":0.66},{"k":20,"t":3.465,"v":0.6},{"k":20,"t":3.476,"v":0.64},{"k":20,"t":3.477,"v":-0.24},{"k":20,"t":3.482,"v":0.0},

    {"k":21,"t":3.426,"v":0.02},{"k":21,"t":3.427,"v":0.55},{"k":21,"t":3.435,"v":0.46},{"k":21,"t":3.445,"v":0.41},{"k":21,"t":3.455,"v":0.48},{"k":21,"t":3.465,"v":0.42},{"k":21,"t":3.475,"v":0.46},{"k":21,"t":3.485,"v":0.4},{"k":21,"t":3.495,"v":0.47},{"k":21,"t":3.505,"v":0.43},{"k":21,"t":3.515,"v":0.49},{"k":21,"t":3.525,"v":0.42},{"k":21,"t":3.535,"v":0.45},{"k":21,"t":3.545,"v":0.4},{"k":21,"t":3.555,"v":0.47},{"k":21,"t":3.565,"v":0.43},{"k":21,"t":3.575,"v":0.46},{"k":21,"t":3.585,"v":0.41},{"k":21,"t":3.595,"v":0.45},{"k":21,"t":3.605,"v":0.42},{"k":21,"t":3.615,"v":0.47},{"k":21,"t":3.626,"v":0.44},{"k":21,"t":3.627,"v":-0.06},{"k":21,"t":3.632,"v":0.0},

    {"k":22,"t":3.576,"v":0.02},{"k":22,"t":3.577,"v":0.8},{"k":22,"t":3.585,"v":0.56},{"k":22,"t":3.595,"v":0.62},{"k":22,"t":3.605,"v":0.55},{"k":22,"t":3.615,"v":0.6},{"k":22,"t":3.625,"v":0.57},{"k":22,"t":3.635,"v":0.65},{"k":22,"t":3.645,"v":0.58},{"k":22,"t":3.655,"v":0.63},{"k":22,"t":3.665,"v":0.56},{"k":22,"t":3.675,"v":0.61},{"k":22,"t":3.685,"v":0.59},{"k":22,"t":3.695,"v":0.66},{"k":22,"t":3.705,"v":0.6},{"k":22,"t":3.715,"v":0.64},{"k":22,"t":3.725,"v":0.57},{"k":22,"t":3.735,"v":0.62},{"k":22,"t":3.745,"v":0.6},{"k":22,"t":3.755,"v":0.67},{"k":22,"t":3.765,"v":0.61},{"k":22,"t":3.776,"v":0.65},{"k":22,"t":3.777,"v":-0.23},{"k":22,"t":3.782,"v":0.0},

    {"k":23,"t":3.725,"v":0.02},{"k":23,"t":3.726,"v":0.86},{"k":23,"t":3.735,"v":0.6},{"k":23,"t":3.745,"v":0.66},{"k":23,"t":3.755,"v":0.62},{"k":23,"t":3.765,"v":0.7},{"k":23,"t":3.775,"v":0.64},{"k":23,"t":3.78,"v":0.91},{"k":23,"t":3.785,"v":0.66},{"k":23,"t":3.795,"v":0.72},{"k":23,"t":3.805,"v":0.65},{"k":23,"t":3.815,"v":0.71},{"k":23,"t":3.825,"v":0.67},{"k":23,"t":3.835,"v":1.03},{"k":23,"t":3.84,"v":0.68},{"k":23,"t":3.85,"v":0.74},{"k":23,"t":3.86,"v":0.66},{"k":23,"t":3.87,"v":0.79},{"k":23,"t":3.88,"v":0.65},{"k":23,"t":3.89,"v":0.7},{"k":23,"t":3.9,"v":0.63},{"k":23,"t":3.91,"v":0.68},{"k":23,"t":3.926,"v":0.64},{"k":23,"t":3.927,"v":-0.17},{"k":23,"t":3.932,"v":0.02},
    {"k":23,"t":3.94,"v":0.07},{"k":23,"t":3.95,"v":-0.02},{"k":23,"t":3.96,"v":0.08},{"k":23,"t":3.97,"v":0.0},{"k":23,"t":3.98,"v":0.06},{"k":23,"t":3.99,"v":-0.03},{"k":23,"t":4.0,"v":0.05},{"k":23,"t":4.01,"v":-0.02},{"k":23,"t":4.02,"v":0.04},

    {"k":24,"t":3.876,"v":0.02},{"k":24,"t":3.877,"v":0.79},{"k":24,"t":3.885,"v":0.5},{"k":24,"t":3.895,"v":0.45},{"k":24,"t":3.905,"v":0.52},{"k":24,"t":3.915,"v":0.46},{"k":24,"t":3.925,"v":0.5},{"k":24,"t":3.935,"v":0.44},{"k":24,"t":3.945,"v":0.49},{"k":24,"t":3.955,"v":0.45},{"k":24,"t":3.965,"v":0.51},{"k":24,"t":3.975,"v":0.46},{"k":24,"t":3.985,"v":0.5},{"k":24,"t":3.995,"v":0.44},{"k":24,"t":4.005,"v":0.48},{"k":24,"t":4.015,"v":0.45},{"k":24,"t":4.025,"v":0.5},{"k":24,"t":4.035,"v":0.46},{"k":24,"t":4.045,"v":0.51},{"k":24,"t":4.055,"v":0.45},{"k":24,"t":4.065,"v":0.49},{"k":24,"t":4.076,"v":0.47},{"k":24,"t":4.077,"v":-0.1},{"k":24,"t":4.08,"v":0.04},
    {"k":24,"t":4.09,"v":0.08},{"k":24,"t":4.1,"v":-0.01},{"k":24,"t":4.11,"v":0.07},{"k":24,"t":4.12,"v":0.0},{"k":24,"t":4.13,"v":0.06},{"k":24,"t":4.14,"v":-0.03},{"k":24,"t":4.15,"v":0.05},{"k":24,"t":4.16,"v":-0.01},{"k":24,"t":4.17,"v":0.03}
  ]},
  "layer": [
    {
      "data": {"values": [
        {"g":"open","t":0.102,"lo":0.38,"hi":0.74},{"g":"open","t":0.3,"lo":0.37,"hi":0.76},{"g":"open","t":0.5,"lo":0.38,"hi":0.76},{"g":"open","t":0.7,"lo":0.39,"hi":0.76},{"g":"open","t":0.9,"lo":0.4,"hi":0.76},{"g":"open","t":1.0,"lo":0.44,"hi":0.75},{"g":"open","t":1.1,"lo":0.46,"hi":0.75},{"g":"open","t":1.3,"lo":0.46,"hi":0.76},{"g":"open","t":1.5,"lo":0.45,"hi":0.75},{"g":"open","t":1.599,"lo":0.44,"hi":0.74},
        {"g":"base","t":0.001,"lo":-0.075,"hi":0.055},{"g":"base","t":0.099,"lo":-0.075,"hi":0.055},
        {"g":"rest","t":1.602,"lo":-0.075,"hi":0.055},{"g":"rest","t":2.0,"lo":-0.075,"hi":0.055},{"g":"rest","t":2.5,"lo":-0.075,"hi":0.055},{"g":"rest","t":3.0,"lo":-0.075,"hi":0.055},{"g":"rest","t":3.5,"lo":-0.07,"hi":0.05},{"g":"rest","t":3.87,"lo":-0.065,"hi":0.045}
      ]},
      "mark": {"type": "area", "color": "black", "opacity": 1},
      "encoding": {
        "x": {"field": "t", "type": "quantitative", "scale": {"domain": [0.003, 4.176], "nice": false, "zero": false}, "axis": null},
        "y": {"field": "hi", "type": "quantitative", "scale": {"domain": [-0.4, 1.24], "nice": false, "zero": false}, "axis": null},
        "y2": {"field": "lo"},
        "detail": {"field": "g", "type": "nominal"}
      }
    },
    {
      "transform": [{"filter": "datum.k <= 7"}],
      "mark": {"type": "line", "color": "black", "strokeWidth": 2, "strokeJoin": "round"},
      "encoding": {
        "x": {
          "field": "t",
          "type": "quantitative",
          "scale": {"domain": [0.003, 4.176], "nice": false, "zero": false},
          "axis": {
            "orient": "bottom",
            "values": [0.1, 1.6, 4.1],
            "format": ".1f",
            "grid": false,
            "domainColor": "#555555",
            "tickColor": "#555555",
            "tickSize": -6,
            "labelFont": "DejaVu Sans",
            "labelFontSize": 22,
            "labelColor": "#262626",
            "labelPadding": 20,
            "labelFlush": false,
            "labelOverlap": false,
            "title": "t [s]",
            "titleFont": "DejaVu Sans",
            "titleFontSize": 25,
            "titleFontWeight": "normal",
            "titleColor": "#262626",
            "titleY": 65,
            "titleBaseline": "alphabetic"
          }
        },
        "y": {
          "field": "v",
          "type": "quantitative",
          "scale": {"domain": [-0.4, 1.24], "nice": false, "zero": false},
          "axis": {
            "orient": "left",
            "values": [0, 0.5, 1],
            "format": "~g",
            "grid": false,
            "domainColor": "#555555",
            "tickColor": "#555555",
            "tickSize": -6,
            "labelFont": "DejaVu Sans",
            "labelFontSize": 22,
            "labelColor": "#262626",
            "labelPadding": 22,
            "labelOverlap": false,
            "title": "I / Iₘₐₓ",
            "titleFont": "DejaVu Sans",
            "titleFontSize": 25,
            "titleFontWeight": "normal",
            "titleColor": "#262626",
            "titleAngle": 270,
            "titleAlign": "center",
            "titleBaseline": "alphabetic",
            "titleX": -75,
            "titleY": 234.5
          }
        },
        "detail": {"field": "k", "type": "nominal"}
      }
    },
    {
      "transform": [{"filter": "datum.k >= 10"}],
      "mark": {"type": "line", "color": "black", "strokeWidth": 1.6, "strokeJoin": "round"},
      "encoding": {
        "x": {"field": "t", "type": "quantitative", "scale": {"domain": [0.003, 4.176], "nice": false, "zero": false}, "axis": null},
        "y": {"field": "v", "type": "quantitative", "scale": {"domain": [-0.4, 1.24], "nice": false, "zero": false}, "axis": null},
        "detail": {"field": "k", "type": "nominal"}
      }
    },
    {
      "data": {"values": [{"t": 0.003, "v": -0.4}]},
      "mark": {"type": "point", "opacity": 0},
      "encoding": {
        "x": {
          "field": "t",
          "type": "quantitative",
          "scale": {"domain": [0.003, 4.176], "nice": false, "zero": false},
          "axis": {
            "orient": "top",
            "domain": false,
            "ticks": false,
            "labels": false,
            "grid": false,
            "title": "25 °C \u00a0Recovery",
            "titleFont": "DejaVu Sans",
            "titleFontSize": 18.5,
            "titleFontWeight": "normal",
            "titleColor": "black",
            "titleAlign": "right",
            "titleAnchor": "end",
            "titleX": 602,
            "titleY": 4.5,
            "titleBaseline": "alphabetic"
          }
        },
        "y": {
          "field": "v",
          "type": "quantitative",
          "scale": {"domain": [-0.4, 1.24], "nice": false, "zero": false},
          "axis": {
            "orient": "right",
            "domain": false,
            "ticks": false,
            "labels": false,
            "grid": false,
            "title": "BBP Channelpedia ID 24027 rep 1",
            "titleFont": "DejaVu Sans",
            "titleFontSize": 13.4,
            "titleFontWeight": "normal",
            "titleColor": "black",
            "titleAngle": 270,
            "titleAlign": "center",
            "titleBaseline": "alphabetic",
            "titleX": 15.5,
            "titleY": 234.5
          }
        }
      }
    }
  ],
  "resolve": {"axis": {"x": "independent", "y": "independent"}}
}
